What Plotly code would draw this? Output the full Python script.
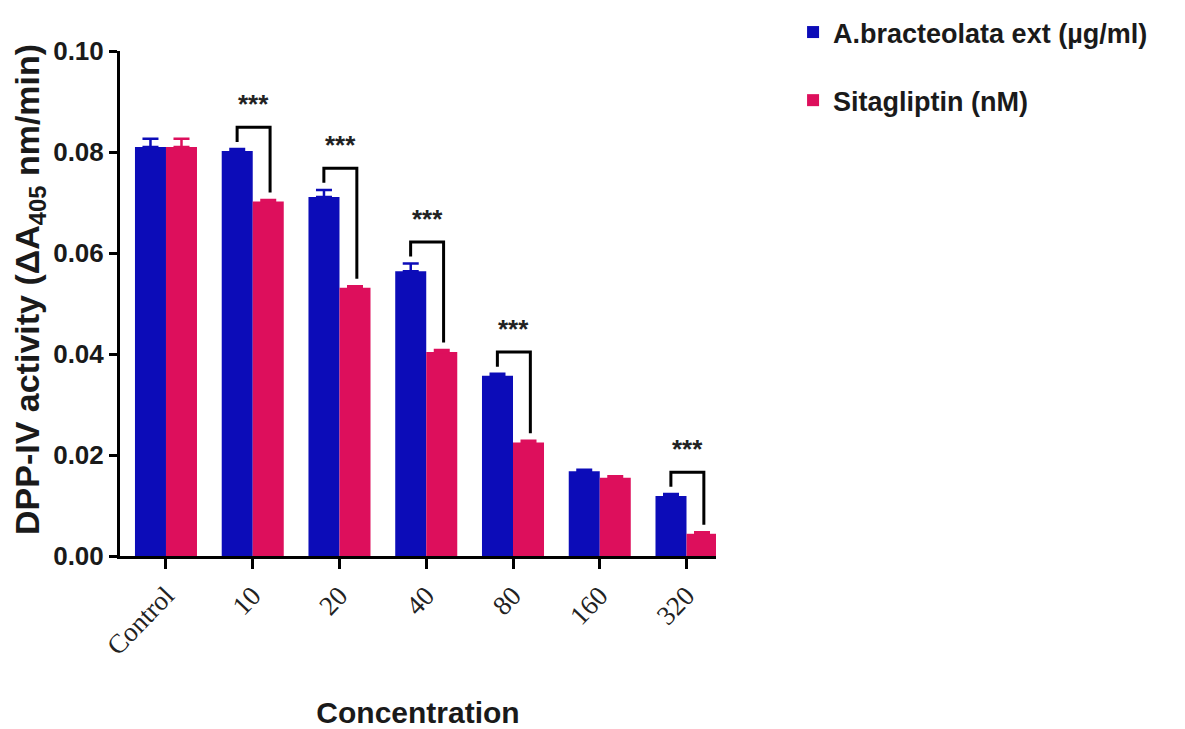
import plotly.graph_objects as go

categories = ["Control", "10", "20", "40", "80", "160", "320"]
extract_vals = [0.0810, 0.0802, 0.0711, 0.0564, 0.0357, 0.0168, 0.0119]
extract_err = [0.0016, 0.0004, 0.0014, 0.0015, 0.0004, 0.0003, 0.0004]
sita_vals = [0.0810, 0.0702, 0.0531, 0.0404, 0.0225, 0.0155, 0.0044]
sita_err = [0.0016, 0.0003, 0.0003, 0.0004, 0.0003, 0.0003, 0.0003]
sig_groups = ["10", "20", "40", "80", "320"]
sig_labels = ["***", "***", "***", "***", "***"]

BLUE = "#0C0CB8"
PINK = "#DD0F5C"

W, H = 1177, 721
ML, MT, PW, PH = 112, 43, 596, 505

fig = go.Figure()
fig.add_trace(go.Bar(
    x=categories, y=extract_vals, name="<b>A.bracteolata ext (µg/ml)</b>",
    marker=dict(color=BLUE, line=dict(width=0)),
    error_y=dict(type="data", array=extract_err, arrayminus=[0]*len(extract_err),
                 symmetric=False, color=BLUE, thickness=2.5, width=8),
    legendgroup="a",
))
fig.add_trace(go.Bar(
    x=categories, y=sita_vals, name="<b>Sitagliptin (nM)</b>",
    marker=dict(color=PINK, line=dict(width=0)),
    error_y=dict(type="data", array=sita_err, arrayminus=[0]*len(sita_err),
                 symmetric=False, color=PINK, thickness=2.5, width=8),
    legendgroup="b",
))

# significance brackets derived from the data
for g, lab in zip(sig_groups, sig_labels):
    i = categories.index(g)
    top_a = extract_vals[i] + extract_err[i]
    top_b = sita_vals[i] + sita_err[i]
    yb = top_a + 0.0043
    xl, xr = i - 0.18, i + 0.2
    fig.add_shape(type="path", xref="x", yref="y",
                  path=f"M {xl},{top_a + 0.0014} L {xl},{yb} L {xr},{yb} L {xr},{top_b + 0.0015}",
                  line=dict(color="black", width=3))
    fig.add_annotation(x=i + 0.01, y=yb, xref="x", yref="y", text=f"<b>{lab}</b>",
                       showarrow=False, yanchor="bottom", yshift=6,
                       font=dict(family="Liberation Sans", size=26, color="#222222"))

# y-axis title
fig.add_annotation(text="<b>DPP-IV activity (ΔA<sub>405</sub> nm/min)</b>",
                   xref="paper", yref="paper", x=(21 - ML) / PW, y=(MT + PH - 282) / PH,
                   xanchor="center", yanchor="middle", textangle=-90, showarrow=False,
                   font=dict(family="Liberation Sans", size=34, color="#1a1a1a"))

fig.update_layout(
    width=W, height=H,
    margin=dict(l=ML, r=W - ML - PW, t=MT, b=H - MT - PH, autoexpand=False),
    paper_bgcolor="white", plot_bgcolor="white",
    barmode="group", bargap=0.285, bargroupgap=0,
    font=dict(family="Liberation Sans", color="#1a1a1a"),
    showlegend=True,
    legend=dict(xref="container", yref="container", x=0.667, y=1.0,
                xanchor="left", yanchor="top",
                font=dict(family="Liberation Sans", size=27, color="#1a1a1a"),
                tracegroupgap=30, traceorder="grouped",
                bgcolor="rgba(0,0,0,0)"),
    xaxis=dict(
        type="category", range=[-0.53, 6.34], automargin=False,
        showline=True, linecolor="black", linewidth=3,
        ticks="outside", ticklen=10, tickwidth=3, tickcolor="black",
        tickangle=-46, showgrid=False, zeroline=False,
        tickfont=dict(family="Liberation Serif", size=27, color="#222222"),
        title=dict(text="<b>Concentration</b>", standoff=45,
                   font=dict(family="Liberation Sans", size=30, color="#1a1a1a")),
    ),
    yaxis=dict(
        range=[0, 0.10], automargin=False,
        tickvals=[0, 0.02, 0.04, 0.06, 0.08, 0.10],
        ticktext=["<b>0.00</b>", "<b>0.02</b>", "<b>0.04</b>", "<b>0.06</b>", "<b>0.08</b>", "<b>0.10</b>"],
        showline=True, linecolor="black", linewidth=3,
        ticks="outside", ticklen=8, tickwidth=3, tickcolor="black",
        showgrid=False, zeroline=False,
        tickfont=dict(family="Liberation Sans", size=26, color="#1a1a1a"),
    ),
)

fig.write_html("out.html")
